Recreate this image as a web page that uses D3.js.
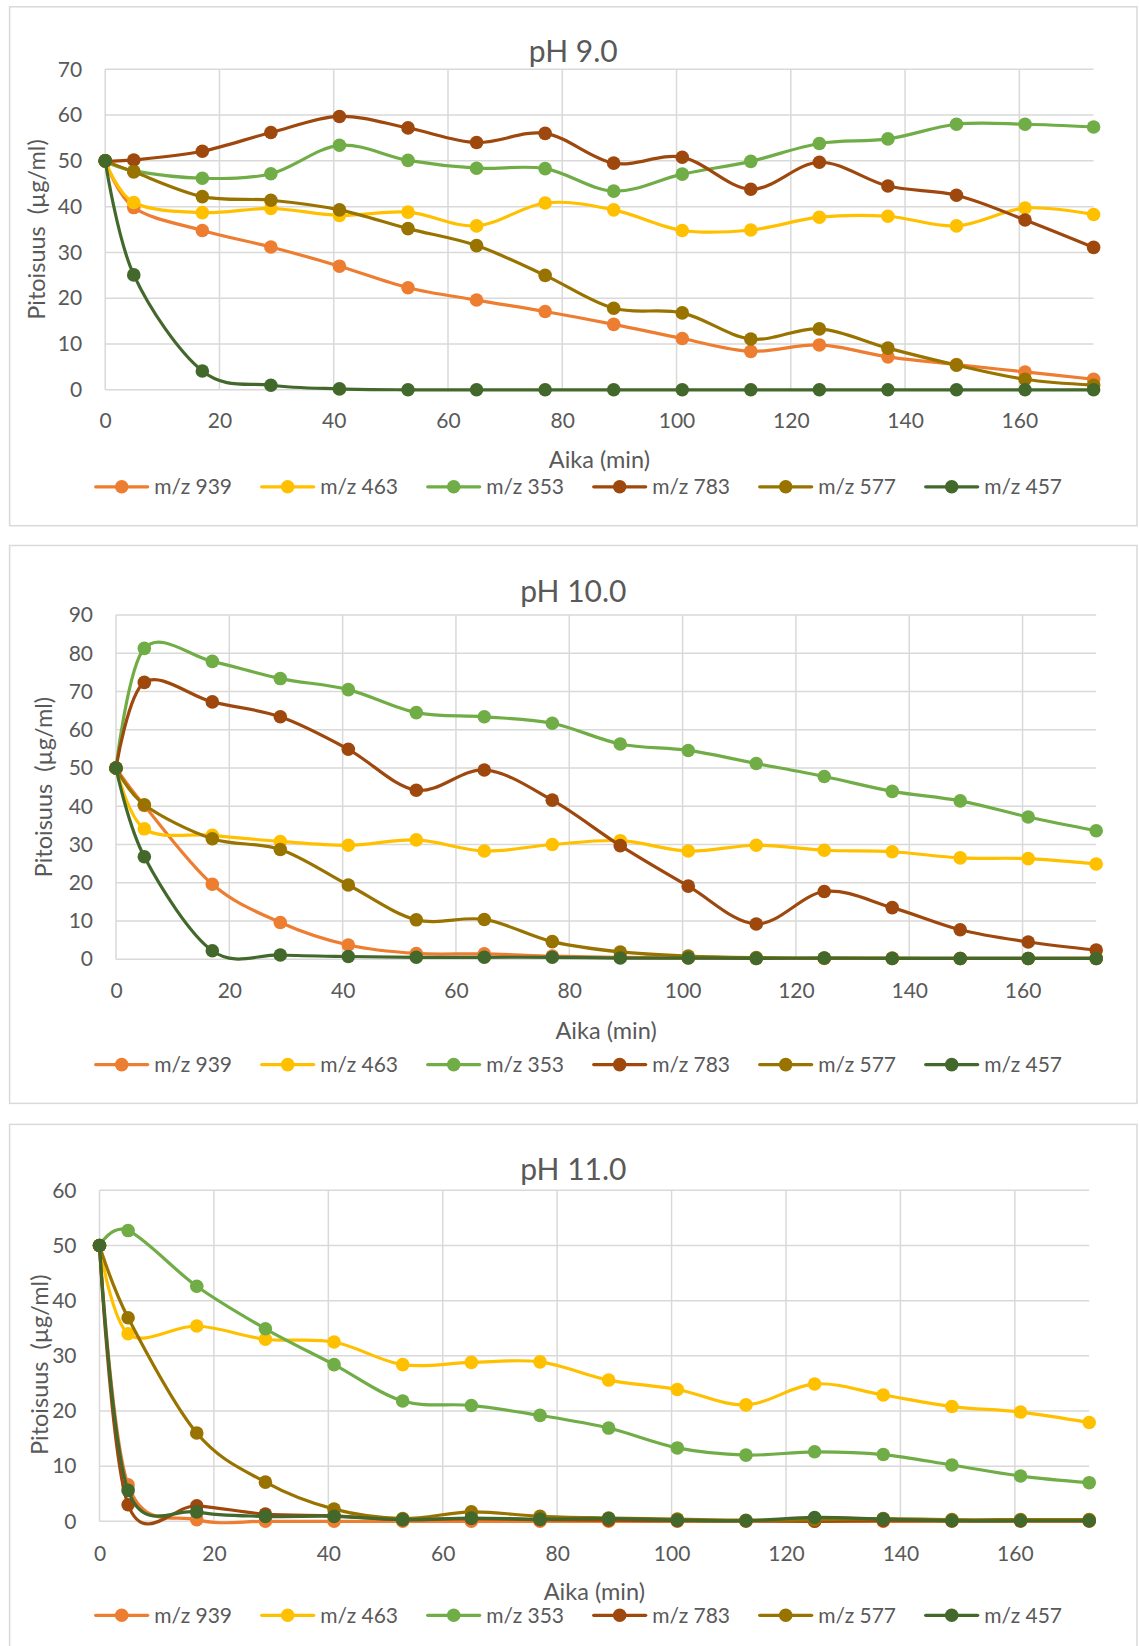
<!DOCTYPE html>
<html>
<head>
<meta charset="utf-8">
<script src="https://cdn.jsdelivr.net/npm/d3@7"></script>
<style>
  html, body { margin: 0; padding: 0; background: #ffffff; }
  svg { display: block; font-family: Lato, "Open Sans", sans-serif; }
</style>
</head>
<body>
<svg id="fig" width="1139" height="1646"></svg>
<script>
// Sampling times (min), shared by every series
const TIMES = [0, 5, 17, 29, 41, 53, 65, 77, 89, 101, 113, 125, 137, 149, 161, 173];
const X_TICKS = [0, 20, 40, 60, 80, 100, 120, 140, 160];

const SERIES_NAMES = ["m/z 939", "m/z 463", "m/z 353", "m/z 783", "m/z 577", "m/z 457"];
const SERIES_COLORS = ["#ED7D31", "#FFC000", "#70AD47", "#9E480E", "#997300", "#43682B"];

const PANEL_TITLES = ["pH 9.0", "pH 10.0", "pH 11.0"];
const Y_TICKS_PH9 = [0, 10, 20, 30, 40, 50, 60, 70];
const Y_TICKS_PH10 = [0, 10, 20, 30, 40, 50, 60, 70, 80, 90];
const Y_TICKS_PH11 = [0, 10, 20, 30, 40, 50, 60];

// Concentrations (µg/ml) at pH 9.0
const ph9_mz939 = [50, 39.8, 34.8, 31.2, 27.0, 22.3, 19.6, 17.1, 14.3, 11.2, 8.4, 9.8, 7.2, 5.5, 3.9, 2.3];
const ph9_mz463 = [50, 40.9, 38.7, 39.6, 38.1, 38.8, 35.8, 40.8, 39.3, 34.8, 34.9, 37.7, 37.9, 35.8, 39.7, 38.3];
const ph9_mz353 = [50, 47.8, 46.2, 47.2, 53.4, 50.1, 48.4, 48.3, 43.4, 47.1, 49.9, 53.8, 54.8, 58.0, 58.0, 57.4];
const ph9_mz783 = [50, 50.2, 52.1, 56.2, 59.7, 57.2, 54.0, 56.0, 49.5, 50.8, 43.8, 49.7, 44.5, 42.5, 37.1, 31.1];
const ph9_mz577 = [50, 47.6, 42.2, 41.4, 39.3, 35.2, 31.5, 25.0, 17.8, 16.8, 11.1, 13.3, 9.1, 5.4, 2.3, 1.0];
const ph9_mz457 = [50, 25.1, 4.1, 1.0, 0.2, 0, 0, 0, 0, 0, 0, 0, 0, 0, 0, 0];

// Concentrations (µg/ml) at pH 10.0
const ph10_mz939 = [50, 40.2, 19.6, 9.6, 3.7, 1.5, 1.4, 0.8, 0.5, 0.3, 0.2, 0.2, 0.2, 0.2, 0.2, 0.2];
const ph10_mz463 = [50, 34.1, 32.4, 30.8, 29.8, 31.2, 28.3, 30.0, 31.0, 28.3, 29.8, 28.5, 28.1, 26.5, 26.3, 24.9];
const ph10_mz353 = [50, 81.3, 77.9, 73.4, 70.5, 64.5, 63.4, 61.7, 56.3, 54.6, 51.2, 47.8, 43.9, 41.4, 37.2, 33.6];
const ph10_mz783 = [50, 72.4, 67.3, 63.4, 54.9, 44.2, 49.5, 41.6, 29.7, 19.1, 9.2, 17.7, 13.5, 7.7, 4.5, 2.4];
const ph10_mz577 = [50, 40.4, 31.5, 28.7, 19.4, 10.3, 10.4, 4.6, 1.9, 0.8, 0.4, 0.3, 0.3, 0.2, 0.2, 0.2];
const ph10_mz457 = [50, 26.8, 2.2, 1.1, 0.7, 0.5, 0.5, 0.5, 0.3, 0.3, 0.2, 0.3, 0.2, 0.2, 0.2, 0.2];

// Concentrations (µg/ml) at pH 11.0
const ph11_mz939 = [50, 6.6, 0.3, 0, 0, 0, 0, 0, 0, 0, 0, 0, 0, 0, 0, 0];
const ph11_mz463 = [50, 34.0, 35.4, 33.0, 32.5, 28.4, 28.8, 28.9, 25.6, 23.9, 21.1, 24.9, 22.9, 20.8, 19.8, 17.9];
const ph11_mz353 = [50, 52.7, 42.6, 34.9, 28.4, 21.8, 21.0, 19.2, 16.9, 13.3, 12.0, 12.6, 12.1, 10.2, 8.2, 7.0];
const ph11_mz783 = [50, 3.0, 2.8, 1.3, 1.0, 0.3, 0.5, 0.3, 0.2, 0.1, 0.1, 0.0, 0.1, 0.1, 0.1, 0.1];
const ph11_mz577 = [50, 36.9, 16.0, 7.1, 2.2, 0.5, 1.7, 0.9, 0.6, 0.4, 0.2, 0.3, 0.5, 0.3, 0.3, 0.3];
const ph11_mz457 = [50, 5.6, 1.7, 0.9, 0.9, 0.3, 0.6, 0.4, 0.5, 0.2, 0.1, 0.7, 0.4, 0.1, 0.1, 0.1];

const X_TITLE = "Aika (min)";
const Y_TITLE = "Pitoisuus  (µg/ml)";

// Panel geometry (pixels)
const panels = [
  { title: PANEL_TITLES[0], yTicks: Y_TICKS_PH9,
    series: [ph9_mz939, ph9_mz463, ph9_mz353, ph9_mz783, ph9_mz577, ph9_mz457],
    box: [9.6, 6.8, 1127.4, 518.9], titleY: 62,
    plot: { left: 105.2, right: 1093.6, top: 69.3, bottom: 389.8 },
    xTickY: 421, xTitleY: 460, yTitleX: 36.4, yTitleDy: 0, legendY: 486.8 },
  { title: PANEL_TITLES[1], yTicks: Y_TICKS_PH10,
    series: [ph10_mz939, ph10_mz463, ph10_mz353, ph10_mz783, ph10_mz577, ph10_mz457],
    box: [9.6, 545.5, 1127.4, 557.9], titleY: 602,
    plot: { left: 116, right: 1096.2, top: 615.1, bottom: 959.2 },
    xTickY: 990.6, xTitleY: 1031, yTitleX: 44, yTitleDy: 0, legendY: 1064.6 },
  { title: PANEL_TITLES[2], yTicks: Y_TICKS_PH11,
    series: [ph11_mz939, ph11_mz463, ph11_mz353, ph11_mz783, ph11_mz577, ph11_mz457],
    box: [9.6, 1124.4, 1127.4, 560], titleY: 1180,
    plot: { left: 99.5, right: 1089.2, top: 1190.3, bottom: 1521.3 },
    xTickY: 1553.4, xTitleY: 1592, yTitleX: 40.2, yTitleDy: 9, legendY: 1615.3 }
];

const TEXT = "#595959";
const GRID = "#d9d9d9";

const svg = d3.select("#fig");

panels.forEach(p => {
  const g = svg.append("g");

  // chart frame
  g.append("rect")
    .attr("x", p.box[0]).attr("y", p.box[1])
    .attr("width", p.box[2]).attr("height", p.box[3])
    .attr("fill", "#fff").attr("stroke", GRID).attr("stroke-width", 1.5);

  const x = d3.scaleLinear().domain([0, TIMES[TIMES.length - 1]]).range([p.plot.left, p.plot.right]);
  const yMax = p.yTicks[p.yTicks.length - 1];
  const y = d3.scaleLinear().domain([0, yMax]).range([p.plot.bottom, p.plot.top]);

  // gridlines
  g.append("g").selectAll("line").data(p.yTicks).join("line")
    .attr("x1", x(0)).attr("x2", x.range()[1])
    .attr("y1", d => y(d)).attr("y2", d => y(d))
    .attr("stroke", GRID).attr("stroke-width", 1.5);
  g.append("g").selectAll("line").data(X_TICKS).join("line")
    .attr("x1", d => x(d)).attr("x2", d => x(d))
    .attr("y1", y(0)).attr("y2", y(yMax))
    .attr("stroke", GRID).attr("stroke-width", 1.5);

  // tick labels via d3 axes with hidden domain/tick lines
  const xAxis = g.append("g")
    .attr("transform", `translate(0,${p.xTickY})`)
    .call(d3.axisBottom(x).tickValues(X_TICKS).tickSize(0).tickPadding(0));
  xAxis.select(".domain").remove();
  xAxis.selectAll("text").attr("dy", "0.35em").attr("y", 0)
    .attr("fill", TEXT).style("font-size", "21px").style("font-family", "Lato");

  const yAxis = g.append("g")
    .attr("transform", `translate(${p.plot.left - 23},0)`)
    .call(d3.axisLeft(y).tickValues(p.yTicks).tickSize(0).tickPadding(0));
  yAxis.select(".domain").remove();
  yAxis.selectAll("text").attr("fill", TEXT).style("font-size", "21px").style("font-family", "Lato");

  // series lines and markers
  const line = d3.line()
    .x((d, i) => x(TIMES[i]))
    .y(d => y(d))
    .curve(d3.curveCardinal.tension(0));

  p.series.forEach((vals, si) => {
    g.append("path").datum(vals)
      .attr("d", line)
      .attr("fill", "none")
      .attr("stroke", SERIES_COLORS[si])
      .attr("stroke-width", 3.2)
      .attr("stroke-linejoin", "round")
      .attr("stroke-linecap", "round");
    g.append("g").selectAll("circle").data(vals).join("circle")
      .attr("cx", (d, i) => x(TIMES[i]))
      .attr("cy", d => y(d))
      .attr("r", 6.8)
      .attr("fill", SERIES_COLORS[si]);
  });

  // titles
  g.append("text")
    .attr("x", p.box[0] + p.box[2] / 2).attr("y", p.titleY)
    .attr("text-anchor", "middle").attr("fill", TEXT)
    .style("font-size", "30px").text(p.title);

  g.append("text")
    .attr("x", (p.plot.left + p.plot.right) / 2).attr("y", p.xTitleY)
    .attr("dy", "0.35em").attr("text-anchor", "middle").attr("fill", TEXT)
    .style("font-size", "23.5px").text(X_TITLE);

  const yMid = (p.plot.top + p.plot.bottom) / 2 + p.yTitleDy;
  g.append("text")
    .attr("transform", `translate(${p.yTitleX},${yMid}) rotate(-90)`)
    .attr("dy", "0.35em").attr("text-anchor", "middle").attr("fill", TEXT)
    .style("font-size", "23.5px").style("white-space", "pre").text(Y_TITLE);

  // legend
  const legend = g.append("g").attr("transform", `translate(0,${p.legendY})`);
  SERIES_NAMES.forEach((name, si) => {
    const lx = 95.7 + si * 166;
    const item = legend.append("g");
    item.append("line")
      .attr("x1", lx).attr("x2", lx + 52).attr("y1", 0).attr("y2", 0)
      .attr("stroke", SERIES_COLORS[si]).attr("stroke-width", 3.2).attr("stroke-linecap", "round");
    item.append("circle").attr("cx", lx + 26).attr("cy", 0).attr("r", 6.8).attr("fill", SERIES_COLORS[si]);
    item.append("text").attr("x", lx + 58.5).attr("y", 0).attr("dy", "0.35em")
      .attr("fill", TEXT).style("font-size", "21px").text(name);
  });
});
</script>
</body>
</html>
